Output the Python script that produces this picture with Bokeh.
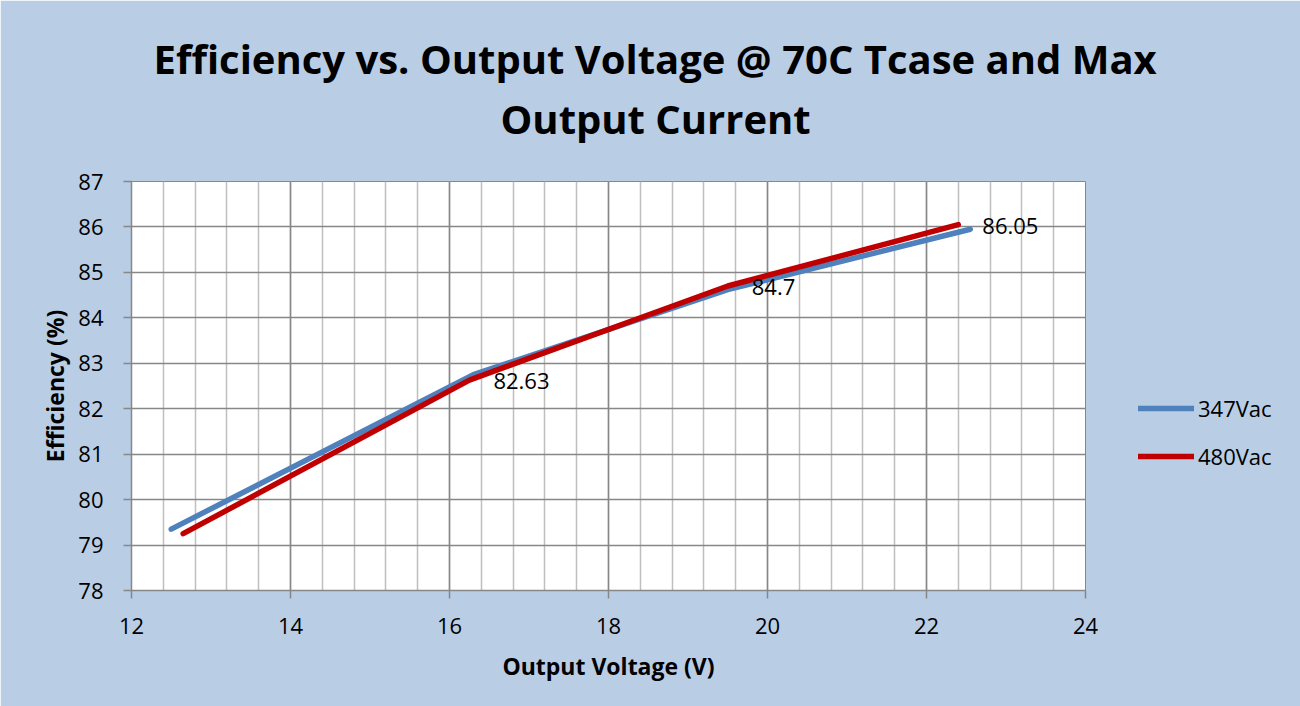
from bokeh.plotting import figure
from bokeh.models import (Range1d, SingleIntervalTicker, LabelSet, Legend,
                          LegendItem, ColumnDataSource, Title)
from bokeh.core.properties import value
from bokeh.embed import file_html
from bokeh.resources import INLINE

# ---- data ----
x_347 = [12.5, 16.3, 19.5, 22.55]
y_347 = [79.35, 82.75, 84.62, 85.95]
x_480 = [12.65, 16.25, 19.5, 22.4]
y_480 = [79.25, 82.63, 84.7, 86.05]
label_x = [16.25, 19.5, 22.4]
label_y = [82.63, 84.7, 86.05]
label_text = ["82.63", "84.7", "86.05"]
series_names = ["347Vac", "480Vac"]
title_lines = ["Efficiency vs. Output Voltage @ 70C Tcase and Max", "Output Current"]
x_title = "Output Voltage (V)"
y_title = "Efficiency (%)"

BG = "#B9CDE5"
GRID = "#878787"
MINOR = "#BFBFBF"
FONT = "Open Sans"

p = figure(frame_width=954, frame_height=409, x_range=Range1d(12, 24), y_range=Range1d(78, 87),
           output_backend="svg", toolbar_location=None,
           min_border_left=131, min_border_right=215, min_border_top=181, min_border_bottom=116,
           background_fill_color="white", border_fill_color=BG)
p.title.visible = False
p.outline_line_color = GRID

p.xaxis.ticker = SingleIntervalTicker(interval=2, num_minor_ticks=5)
p.yaxis.ticker = SingleIntervalTicker(interval=1, num_minor_ticks=0)
p.xgrid.grid_line_color = GRID
p.ygrid.grid_line_color = GRID
p.xgrid.minor_grid_line_color = MINOR
p.xgrid.grid_line_width = 1.5
p.ygrid.grid_line_width = 1.5
p.xgrid.minor_grid_line_width = 1.5

for ax in (p.xaxis[0], p.yaxis[0]):
    ax.axis_line_color = GRID
    ax.axis_line_width = 1.5
    ax.major_tick_line_color = GRID
    ax.major_tick_line_width = 1.5
    ax.major_tick_out = 8
    ax.major_tick_in = 0
    ax.minor_tick_out = 0
    ax.minor_tick_in = 0
    ax.major_label_text_font = FONT
    ax.major_label_text_font_size = "22px"
    ax.major_label_text_color = "black"
    ax.axis_label_text_font = FONT
    ax.axis_label_text_font_style = "bold"
    ax.axis_label_text_font_size = "23px"
    ax.axis_label_text_color = "black"

p.xaxis.axis_label = x_title
p.yaxis.axis_label = y_title
p.xaxis.major_label_standoff = 19
p.xaxis.axis_label_standoff = 13
p.yaxis.major_label_standoff = 20
p.yaxis.axis_label_standoff = 4

r_blue = p.line(x_347, y_347, line_color="#4F81BD", line_width=5.5, line_cap="round", line_join="round")
r_red = p.line(x_480, y_480, line_color="#C00000", line_width=5.5, line_cap="round", line_join="round")

src = ColumnDataSource(dict(x=label_x, y=label_y, t=label_text))
p.add_layout(LabelSet(x="x", y="y", text="t", source=src, x_offset=24, y_offset=-1,
                      text_align="left", text_baseline="middle", text_font=value(FONT),
                      text_font_size="22px", text_color="black"))

legend = Legend(items=[LegendItem(label=series_names[0], renderers=[r_blue]),
                       LegendItem(label=series_names[1], renderers=[r_red])],
                location=(53, 119), glyph_width=56, glyph_height=20, label_standoff=4,
                spacing=18, padding=0, margin=0, background_fill_alpha=0,
                border_line_color=None, label_text_font=FONT, label_text_font_size="22px",
                label_text_color="black", label_height=20)
p.add_layout(legend, "right")

# titles: nearest to frame first
t_line2 = Title(text=title_lines[1], align="left", offset=369, text_font=FONT,
                text_font_style="bold", text_font_size="40px", text_color="black")
t_line1 = Title(text=title_lines[0], align="left", offset=22, text_font=FONT,
                text_font_style="bold", text_font_size="40px", text_color="black")
if "standoff" in Title.properties():
    t_line2.standoff = 3
    t_line1.standoff = 3
p.add_layout(Title(text=" ", text_font_size="20px"), "above")
p.add_layout(t_line2, "above")
p.add_layout(t_line1, "above")

open("out.html", "w").write(file_html(p, INLINE))
